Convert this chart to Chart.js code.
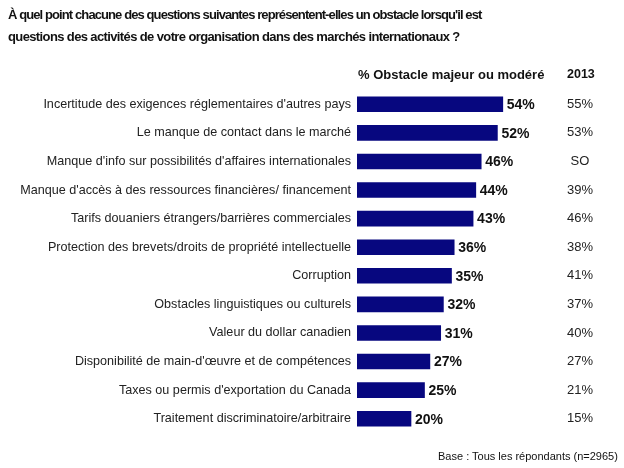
<!DOCTYPE html>
<html><head><meta charset="utf-8">
<script src="https://cdn.jsdelivr.net/npm/chart.js@4"></script>
<style>
html,body{margin:0;padding:0;background:#fff;}
#wrap{position:relative;width:624px;height:468px;overflow:hidden;}
canvas{position:absolute;left:0;top:0;}
.t{position:absolute;white-space:nowrap;color:#111;font-family:"Liberation Sans",Arial,sans-serif;}
</style></head>
<body>
<div id="wrap">
<canvas id="c" width="624" height="468"></canvas>
<div class="t" style="left:8px;top:4px;font-weight:bold;font-size:13px;letter-spacing:-0.9px;line-height:22px;">À quel point chacune des questions suivantes représentent-elles un obstacle lorsqu'il est</div>
<div class="t" style="left:8px;top:26px;font-weight:bold;font-size:13px;letter-spacing:-0.62px;line-height:22px;">questions des activités de votre organisation dans des marchés internationaux ?</div>
<div class="t" style="left:358px;top:67px;font-weight:bold;font-size:13px;">% Obstacle majeur ou modéré</div>
<div class="t" style="left:567px;top:67px;font-weight:bold;font-size:12.5px;">2013</div>
<div class="t" style="left:438px;top:450px;font-size:11px;">Base : Tous les répondants (n=2965)</div>
</div>
<script>
const categories = [
  "Incertitude des exigences réglementaires d'autres pays",
  "Le manque de contact dans le marché",
  "Manque d'info sur possibilités d'affaires internationales",
  "Manque d'accès à des ressources financières/ financement",
  "Tarifs douaniers étrangers/barrières commerciales",
  "Protection des brevets/droits de propriété intellectuelle",
  "Corruption",
  "Obstacles linguistiques ou culturels",
  "Valeur du dollar canadien",
  "Disponibilité de main-d'œuvre et de compétences",
  "Taxes ou permis d'exportation du Canada",
  "Traitement discriminatoire/arbitraire"
];
const values2015 = [54, 52, 46, 44, 43, 36, 35, 32, 31, 27, 25, 20];
const values2013 = ["55%", "53%", "SO", "39%", "46%", "38%", "41%", "37%", "40%", "27%", "21%", "15%"];

const labelPlugin = {
  id: 'labels',
  afterDatasetsDraw(chart) {
    const ctx = chart.ctx;
    const meta = chart.getDatasetMeta(0);
    ctx.save();
    ctx.textBaseline = 'middle';
    meta.data.forEach((bar, i) => {
      ctx.fillStyle = '#111';
      ctx.font = 'bold 14px "Liberation Sans", Arial, sans-serif';
      ctx.textAlign = 'left';
      ctx.fillText(values2015[i] + '%', bar.x + 4, bar.y + 1);
      ctx.font = '13px "Liberation Sans", Arial, sans-serif';
      ctx.fillStyle = '#222';
      ctx.textAlign = 'center';
      ctx.fillText(values2013[i], 580, bar.y);
    });
    ctx.restore();
  }
};

new Chart(document.getElementById('c'), {
  type: 'bar',
  data: {
    labels: categories,
    datasets: [{
      data: values2015,
      backgroundColor: '#07077f',
      borderWidth: 0,
      barThickness: 15
    }]
  },
  options: {
    indexAxis: 'y',
    responsive: false,
    animation: false,
    layout: { padding: { left: 0, right: 51, top: 90, bottom: 35 } },
    plugins: { legend: { display: false }, tooltip: { enabled: false }, title: { display: false } },
    scales: {
      x: { display: false, min: 0, max: 80 },
      y: {
        grid: { display: false, drawTicks: false },
        border: { display: false },
        ticks: {
          color: '#222',
          padding: 6,
          font: { family: '"Liberation Sans", Arial, sans-serif', size: 12.6 }
        },
        afterFit(scale) { scale.width = 357; }
      }
    }
  },
  plugins: [labelPlugin]
});
</script>
</body></html>
